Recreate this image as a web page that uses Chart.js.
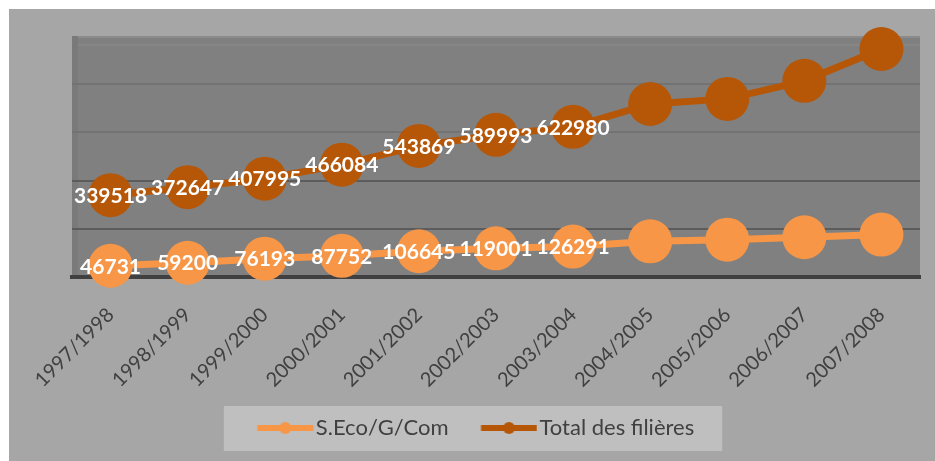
<!DOCTYPE html>
<html>
<head>
<meta charset="utf-8">
<script src="https://cdn.jsdelivr.net/npm/chart.js@4"></script>
<style>
  html, body { margin: 0; padding: 0; background: #ffffff; }
  #wrap { width: 935px; height: 461px; }
</style>
</head>
<body>
<div id="wrap"><canvas id="chart"></canvas></div>
<script>
const years = ['1997/1998', '1998/1999', '1999/2000', '2000/2001', '2001/2002', '2002/2003',
    '2003/2004', '2004/2005', '2005/2006', '2006/2007', '2007/2008'];
const seriesNames = ['S.Eco/G/Com', 'Total des filières'];
const ecoValues = [46731, 59200, 76193, 87752, 106645, 119001, 126291, 148000, 155000, 165000, 176000];
const totalValues = [339518, 372647, 407995, 466084, 543869, 589993, 622980, 718000, 739000, 814000, 946000];
const labelledPoints = 7; // only the first seven points carry a value label

const lightOrange = '#f79646';
const darkOrange = '#b65708';

// little line + dot sample for the legend
function legendSample(color) {
    const c = document.createElement('canvas');
    c.width = 88;
    c.height = 14;
    const g = c.getContext('2d');
    g.strokeStyle = color;
    g.lineWidth = 6;
    g.beginPath();
    g.moveTo(31.5, 7);
    g.lineTo(87.5, 7);
    g.stroke();
    g.fillStyle = color;
    g.beginPath();
    g.arc(59.5, 7, 6, 0, Math.PI * 2);
    g.fill();
    return c;
}
const samples = [legendSample(lightOrange), legendSample(darkOrange)];

const backdrop = {
    id: 'backdrop',
    beforeDraw(chart) {
        const ctx = chart.ctx;
        const area = chart.chartArea;
        const w = area.right - area.left;
        ctx.save();
        ctx.fillStyle = '#a6a6a6';
        ctx.fillRect(9, 9, chart.width - 9, chart.height - 9);
        ctx.fillStyle = '#808080';
        ctx.fillRect(area.left, area.top, w, area.bottom - area.top);
        // faint streaks of the shaded wall
        ctx.fillStyle = '#8b8b8b';
        ctx.fillRect(area.left, area.top, w, 2);
        ctx.fillStyle = '#868686';
        ctx.fillRect(area.left, area.top + 8, w, 2);
        ctx.fillStyle = '#7a7a7a';
        ctx.fillRect(area.left, area.top, 6, area.bottom - area.top);
        const boxes = chart.legend.legendHitBoxes;
        if (boxes && boxes.length) {
            const first = boxes[0];
            const last = boxes[boxes.length - 1];
            const x0 = first.left - 11;
            const x1 = last.left + last.width + 28;
            ctx.fillStyle = '#bfbfbf';
            ctx.fillRect(x0, first.top - 11, x1 - x0, 45);
        }
        ctx.restore();
    },
    afterDatasetsDraw(chart) {
        const ctx = chart.ctx;
        ctx.save();
        ctx.fillStyle = '#ffffff';
        ctx.font = 'bold 21px Lato';
        ctx.textAlign = 'center';
        ctx.textBaseline = 'middle';
        chart.data.datasets.forEach((ds, i) => {
            const meta = chart.getDatasetMeta(i);
            meta.data.forEach((pt, j) => {
                if (j < labelledPoints) {
                    ctx.fillText(String(ds.data[j]), pt.x, pt.y + 1);
                }
            });
        });
        ctx.restore();
    }
};

new Chart(document.getElementById('chart'), {
    type: 'line',
    data: {
        labels: years,
        datasets: [{
            label: seriesNames[0],
            data: ecoValues,
            borderColor: lightOrange,
            backgroundColor: lightOrange,
            pointBackgroundColor: lightOrange,
            pointBorderWidth: 0,
            pointRadius: 22,
            pointHoverRadius: 22,
            borderWidth: 7,
            clip: false
        }, {
            label: seriesNames[1],
            data: totalValues,
            borderColor: darkOrange,
            backgroundColor: darkOrange,
            pointBackgroundColor: darkOrange,
            pointBorderWidth: 0,
            pointRadius: 22,
            pointHoverRadius: 22,
            borderWidth: 7,
            clip: false
        }]
    },
    options: {
        responsive: true,
        maintainAspectRatio: false,
        animation: false,
        events: [],
        layout: { autoPadding: false, padding: { left: 9, right: 15, top: 36, bottom: 12 } },
        scales: {
            x: {
                offset: true,
                grid: { display: false },
                border: { display: true, color: '#404040', width: 4 },
                ticks: {
                    color: '#404040',
                    font: { family: 'Lato', size: 20 },
                    minRotation: 45,
                    maxRotation: 45,
                    padding: 18
                },
                afterFit(scale) {
                    scale.height = 130;
                    scale.paddingLeft = 0;
                    scale.paddingRight = 0;
                }
            },
            y: {
                min: 0,
                max: 1000000,
                ticks: { display: false, stepSize: 200000 },
                border: { display: false },
                grid: {
                    drawTicks: false,
                    lineWidth: 2,
                    color: (c) => {
                        const v = c.tick ? c.tick.value : 0;
                        if (v === 0 || v === 1000000) return 'rgba(0,0,0,0)';
                        if (v <= 400000) return '#5c5c5c';
                        return '#737373';
                    }
                },
                afterFit(scale) { scale.width = 63; }
            }
        },
        plugins: {
            tooltip: { enabled: false },
            legend: {
                position: 'bottom',
                labels: {
                    color: '#404040',
                    font: { family: 'Lato', size: 22 },
                    usePointStyle: true,
                    pointStyleWidth: 70,
                    padding: 10,
                    generateLabels(chart) {
                        const items = Chart.defaults.plugins.legend.labels.generateLabels(chart);
                        items.forEach((it, i) => { it.pointStyle = samples[i]; });
                        return items;
                    }
                }
            }
        }
    },
    plugins: [backdrop]
});
</script>
</body>
</html>
